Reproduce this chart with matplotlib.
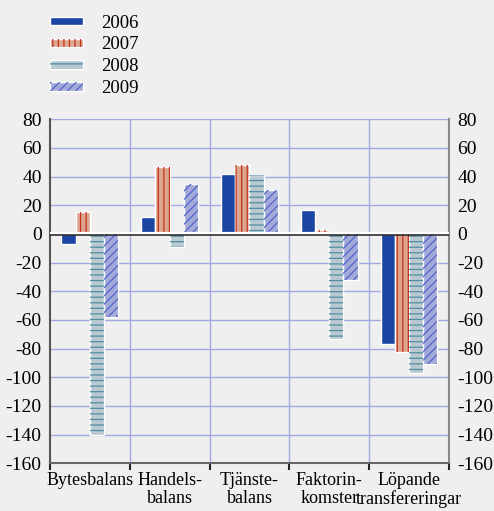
import numpy as np
import matplotlib
matplotlib.use("Agg")
import matplotlib.pyplot as plt
import matplotlib.transforms as mtransforms

categories = ["Bytesbalans", "Handels-\nbalans", "Tjänste-\nbalans",
              "Faktorin-\nkomster", "Löpande\ntransfereringar"]
years = ["2006", "2007", "2008", "2009"]
v2006 = [-7, 12, 42, 17, -77]
v2007 = [15, 47, 48, 3, -82]
v2008 = [-140, -9, 41, -73, -97]
v2009 = [-58, 35, 31, -32, -91]
yticks = list(range(-160, 81, 20))

series = [v2006, v2007, v2008, v2009]
faces = ["#1a45a3", "#dea58e", "#b9c8d1", "#a3aad9"]
hatches = [None, "|||", "---", "////"]
hatch_colors = [None, "#c0331f", "#4f8fa0", "#5566c8"]

plt.rcParams["font.family"] = ["Liberation Serif", "DejaVu Serif"]
plt.rcParams["hatch.linewidth"] = 0.9

bg = "#efefef"
fig = plt.figure(figsize=(4.94, 5.11), dpi=100, facecolor=bg)
ax = fig.add_axes([0.1012, 0.0933, 0.8076, 0.6732], facecolor=bg)

n = len(categories)
x = np.arange(n)
w = 0.178
offsets = (np.arange(4) - 1.5) * w

handles = []
for k, vals in enumerate(series):
    ax.bar(x + offsets[k], vals, width=w, color=faces[k],
           edgecolor="white", linewidth=1.0, zorder=3)
    if hatches[k]:
        ax.bar(x + offsets[k], vals, width=w, facecolor="none",
               edgecolor=hatch_colors[k], hatch=hatches[k], linewidth=0,
               zorder=4)
    h = plt.Rectangle((0, 0), 1, 1, facecolor=faces[k], edgecolor="white",
                      linewidth=1.0)
    handles.append(h)

leg_handles = []
for k in range(4):
    if hatches[k]:
        hp = plt.Rectangle((0, 0), 1, 1, facecolor="none",
                           edgecolor=hatch_colors[k], hatch=hatches[k],
                           linewidth=0)
        leg_handles.append((handles[k], hp))
    else:
        leg_handles.append(handles[k])

ax.set_xlim(-0.5, n - 0.5)
ax.set_ylim(-160, 80)
ax.set_yticks(yticks)
ax.set_yticklabels([str(t) for t in yticks])

# grid
grid_c = "#a2a9e2"
for t in yticks:
    if t != 0:
        ax.axhline(t, color=grid_c, lw=1.0, zorder=1)
for b in np.arange(0.5, n - 0.5, 1):
    ax.axvline(b, color=grid_c, lw=1.0, zorder=1)

# zero line: white highlight above a dark rule
up = mtransforms.ScaledTranslation(0, 1.2 / 100, fig.dpi_scale_trans)
dn = mtransforms.ScaledTranslation(0, -0.6 / 100, fig.dpi_scale_trans)
ax.plot([-0.5, n - 0.5], [0, 0], color="white", lw=1.6, zorder=5,
        transform=ax.transData + up, solid_capstyle="butt")
ax.plot([-0.5, n - 0.5], [0, 0], color="#222222", lw=1.1, zorder=5,
        transform=ax.transData + dn, solid_capstyle="butt")

# x axis: labels at centres, ticks at boundaries
ax.set_xticks(x)
ax.set_xticklabels(categories, fontsize=13, linespacing=1.12)
ax.set_xticks(np.arange(-0.5, n, 1), minor=True)
ax.tick_params(axis="x", which="major", length=0, pad=6)
ax.tick_params(axis="x", which="minor", length=5, width=1.5,
               color="#222222", direction="out")
ax.tick_params(axis="y", which="both", length=0, labelsize=14,
               left=False, right=False, labelleft=True, labelright=True,
               pad=6)

ax.spines["top"].set_visible(False)
ax.spines["left"].set_color("#555555")
ax.spines["right"].set_color("#888888")
ax.spines["bottom"].set_color("#666666")
for s in ["left", "right", "bottom"]:
    ax.spines[s].set_linewidth(1.5)

fig.legend(leg_handles, years, loc="upper left",
           bbox_to_anchor=(42 / 494, 1 - 7 / 511), frameon=False,
           fontsize=13.5, handlelength=1.8, handleheight=0.3,
           labelspacing=0.26, handletextpad=0.95, borderaxespad=0)

fig.savefig("out.png", dpi=100, facecolor=bg)
